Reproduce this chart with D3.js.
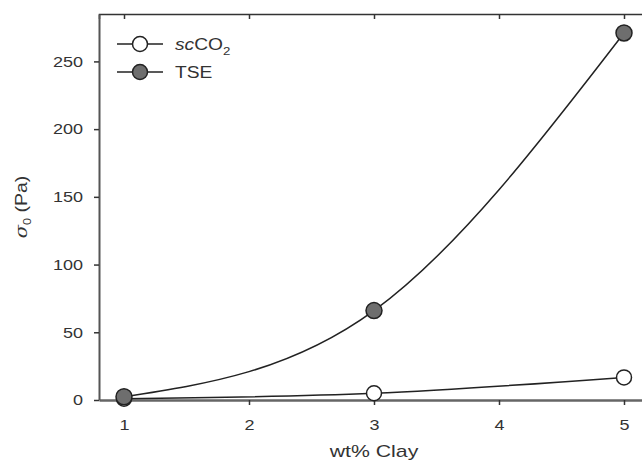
<!DOCTYPE html>
<html>
<head>
<meta charset="utf-8">
<script src="https://cdn.jsdelivr.net/npm/d3@7"></script>
<style>
  body { margin: 0; background: #fff; }
  svg { font-family: "Liberation Sans", Arial, sans-serif; }
</style>
</head>
<body>
<div id="chart"></div>
<script>
// data
const clay = [1, 3, 5];
const scco2 = [1.0, 5.0, 16.7];
const tse = [2.4, 66, 271];
const xTicks = [1, 2, 3, 4, 5];
const yTicks = [0, 50, 100, 150, 200, 250];

const WIDTH = 642, HEIGHT = 463;
const margin = { left: 99, top: 14, right: -7, bottom: 63 };
const ink = "#333";

// the original lettering is wide, so widen each text a bit
function widen(sel, k = 1.2) {
    sel.each(function () {
        const len = this.getComputedTextLength();
        d3.select(this).attr("textLength", len * k).attr("lengthAdjust", "spacingAndGlyphs");
    });
}

const svg = d3.select("#chart").append("svg")
    .attr("width", WIDTH)
    .attr("height", HEIGHT);

const x = d3.scaleLinear().domain([0.8, 5.2]).range([margin.left, WIDTH - margin.right]);
const y = d3.scaleLinear().domain([0, 285]).range([HEIGHT - margin.bottom, margin.top]);

// frame: top line with inward ticks
svg.append("g")
    .attr("transform", `translate(0,${margin.top})`)
    .call(d3.axisTop(x).tickValues(xTicks).tickSize(-5).tickFormat(""))
    .call(g => g.selectAll("path, line").attr("stroke", ink).attr("stroke-width", 1.5));

// bottom axis
svg.append("g")
    .attr("transform", `translate(0,${y(0)})`)
    .call(d3.axisBottom(x).tickValues(xTicks).tickSize(5).tickSizeOuter(0).tickPadding(14).tickFormat(d3.format("d")))
    .call(g => g.select(".domain").attr("stroke", "#666").attr("stroke-width", 2.5))
    .call(g => g.selectAll(".tick line").attr("stroke", ink).attr("stroke-width", 1.5))
    .call(g => g.selectAll("text").attr("fill", ink).attr("font-size", 15).call(widen));

// left axis
svg.append("g")
    .attr("transform", `translate(${margin.left},0)`)
    .call(d3.axisLeft(y).tickValues(yTicks).tickSize(5).tickSizeOuter(0).tickPadding(11))
    .call(g => g.select(".domain").attr("stroke", "#555").attr("stroke-width", 2))
    .call(g => g.selectAll(".tick line").attr("stroke", ink).attr("stroke-width", 1.5))
    .call(g => g.selectAll("text").attr("fill", ink).attr("font-size", 15).call(widen));

// curves
const line = d3.line().curve(d3.curveNatural).x((d, i) => x(clay[i])).y(d => y(d));
[scco2, tse].forEach(s => {
    svg.append("path")
        .attr("d", line(s))
        .attr("fill", "none")
        .attr("stroke", "#222")
        .attr("stroke-width", 1.5);
});

// markers
svg.append("g").selectAll("circle")
    .data(scco2)
    .join("circle")
    .attr("cx", (d, i) => x(clay[i]))
    .attr("cy", d => y(d))
    .attr("r", 7.5)
    .attr("fill", "#fff")
    .attr("stroke", "#222")
    .attr("stroke-width", 1.5);

svg.append("g").selectAll("circle")
    .data(tse)
    .join("circle")
    .attr("cx", (d, i) => x(clay[i]))
    .attr("cy", d => y(d))
    .attr("r", 8)
    .attr("fill", "#6e6e6e")
    .attr("stroke", "#222")
    .attr("stroke-width", 1.5);

// legend
const legend = svg.append("g").attr("transform", "translate(117,44)");
const fills = ["#fff", "#6e6e6e"];
fills.forEach((f, i) => {
    const g = legend.append("g").attr("transform", `translate(0,${i * 28})`);
    g.append("line").attr("x1", 0).attr("x2", 46).attr("stroke", "#222").attr("stroke-width", 1.5);
    g.append("circle").attr("cx", 23).attr("r", 7.5).attr("fill", f)
        .attr("stroke", "#222").attr("stroke-width", 1.5);
    const t = g.append("text").attr("x", 58).attr("dy", "0.36em")
        .attr("font-size", 16).attr("fill", ink);
    if (i === 0) {
        t.append("tspan").attr("font-style", "italic").text("sc");
        t.append("tspan").text("CO");
        t.append("tspan").attr("font-size", 11).attr("dy", 5).text("2");
    } else {
        t.text("TSE");
    }
    widen(t);
});

// axis titles
svg.append("text")
    .attr("x", (x(1) + x(5)) / 2)
    .attr("y", 457)
    .attr("text-anchor", "middle")
    .attr("font-size", 17)
    .attr("fill", ink)
    .text("wt% Clay")
    .call(widen, 1.25);

const yt = svg.append("text")
    .attr("transform", `translate(27,${(margin.top + y(0)) / 2}) rotate(-90)`)
    .attr("text-anchor", "middle")
    .attr("font-size", 17)
    .attr("fill", ink);
yt.append("tspan").attr("font-style", "italic").attr("font-family", "DejaVu Serif, serif").text("σ");
yt.append("tspan").attr("font-size", 11).attr("dy", 4).text("0");
yt.append("tspan").attr("dy", -4).text(" (Pa)");
widen(yt, 1.15);
</script>
</body>
</html>
